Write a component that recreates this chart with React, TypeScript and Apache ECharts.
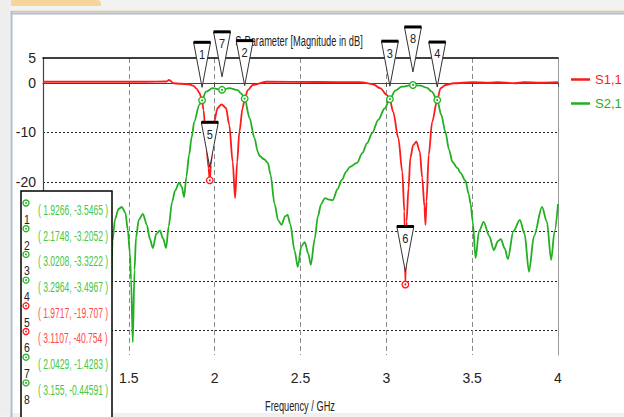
import React, { useEffect, useRef } from "react";
import * as echarts from "echarts";

// ---- data ----
const seriesNames = ["S1,1", "S2,1"];
const titleText = "S-Parameter [Magnitude in dB]";
const xAxisTitle = "Frequency / GHz";

const s11Freq = [
  1.0, 1.3, 1.6, 1.72, 1.735, 1.745, 1.76, 1.8, 1.85, 1.875, 1.895, 1.91, 1.9266, 1.935, 1.949, 1.964,
  1.9717, 1.978, 1.997, 2.017, 2.04, 2.066, 2.085, 2.105, 2.119, 2.131, 2.144, 2.163, 2.175, 2.193, 2.222,
  2.3, 2.6, 2.85, 2.923, 2.964, 3.005, 3.0208, 3.04, 3.07, 3.093, 3.105, 3.1107, 3.118, 3.129, 3.14, 3.156,
  3.175, 3.195, 3.209, 3.222, 3.228, 3.234, 3.247, 3.267, 3.2964, 3.316, 3.345, 3.392, 3.5, 3.6, 3.65, 3.75,
  3.8, 3.9, 4.0,
];
const s11Mag = [
  0.2, 0.2, 0.2, 0.25, 0.6, 0.3, -0.1, -0.2, -0.3, -0.6, -1.2, -2.0, -3.5, -5.5, -11.2, -17.2,
  -19.707, -16.6, -7.9, -5.1, -4.35, -5.1, -8.5, -16.0, -23.3, -16.0, -9.9, -5.1, -3.2, -1.5, -0.45,
  0.2, 0.15, 0.1, -0.3, -1.1, -2.5, -3.5, -5.9, -11.2, -18.0, -26, -40.754, -28, -21.3, -15.2, -12.6,
  -11.9, -13.9, -19.2, -25, -28.7, -24, -14.6, -7.9, -3.5, -1.1, -0.45, -0.1, 0.1, 0.0, 0.1, -0.1,
  0.1, 0.0, 0.1,
];

const s21Freq = [
  1.385, 1.394, 1.405, 1.42, 1.44, 1.459, 1.48, 1.494, 1.506, 1.513, 1.523, 1.533, 1.542, 1.558, 1.582,
  1.605, 1.622, 1.64, 1.66, 1.681, 1.7, 1.717, 1.732, 1.752, 1.769, 1.793, 1.808, 1.822, 1.835, 1.851,
  1.866, 1.881, 1.91, 1.9266, 1.949, 1.988, 2.0429, 2.085, 2.134, 2.155, 2.1748, 2.203, 2.232, 2.251,
  2.261, 2.29, 2.31, 2.325, 2.349, 2.37, 2.39, 2.41, 2.425, 2.44, 2.466, 2.484, 2.505, 2.525, 2.545,
  2.56, 2.583, 2.601, 2.62, 2.642, 2.665, 2.689, 2.715, 2.742, 2.765, 2.788, 2.829, 2.86, 2.888, 2.917,
  2.953, 2.99, 3.0208, 3.052, 3.09, 3.155, 3.2, 3.235, 3.265, 3.2964, 3.32, 3.344, 3.365, 3.385, 3.414,
  3.432, 3.461, 3.48, 3.491, 3.503, 3.52, 3.54, 3.567, 3.6, 3.626, 3.65, 3.667, 3.69, 3.708, 3.74,
  3.778, 3.805, 3.831, 3.86, 3.907, 3.935, 3.96, 3.98, 4.0,
];
const s21Mag = [
  -50, -45, -32, -27.5, -25.5, -25.1, -26.3, -29.7, -34.4, -39.8, -52.4, -37.8, -31.2, -27.7, -26.5,
  -28.7, -31.5, -33.4, -30.5, -29.9, -31.5, -33.4, -29, -24.1, -21.8, -20.2, -21, -23.1, -19, -14.6,
  -11, -7.9, -4.5, -3.5465, -1.8, -1.1, -1.4283, -1.1, -1.5, -2.2, -3.2052, -7.1, -11.2, -13.9,
  -14.8, -15.5, -16.2, -18.5, -24.5, -27.8, -28.7, -27.0, -26.7, -28.5, -34, -37.2, -33, -32.2, -34.5,
  -36.8, -31.5, -27, -24.5, -23.3, -23.6, -23.7, -21.5, -19.6, -18, -17.0, -16.2, -14.2, -12.2, -10.2,
  -7.5, -5.2, -3.3222, -1.6, -0.8, -0.44591, -0.6, -1.0, -1.8, -3.4967, -6.5, -9.9, -13.5, -16.0, -17.2,
  -18.2, -19.8, -22.5, -24.5, -28, -35.4, -30, -28.1, -31, -33.8, -32, -31.6, -33.5, -35.6, -30,
  -27.7, -30.5, -38.2, -31, -25.1, -28, -35.8, -30, -24.5,
];

const markerIds = [1, 2, 3, 4, 5, 6, 7, 8];
const markerFreq = [1.9266, 2.1748, 3.0208, 3.2964, 1.9717, 3.1107, 2.0429, 3.155];
const markerMag = [-3.5465, -3.2052, -3.3222, -3.4967, -19.707, -40.754, -1.4283, -0.44591];
const markerCurve = ["S2,1", "S2,1", "S2,1", "S2,1", "S1,1", "S1,1", "S2,1", "S2,1"];

// ---- styles ----
const RED = "#ff1a1a";
const GREEN = "#22b022";
const RED_TXT = "#ff4a4a";
const GREEN_TXT = "#45c845";
const FONT = '"Liberation Sans", sans-serif';

function colorOf(name: string) {
  return name === "S1,1" ? RED : GREEN;
}

export default function App() {
  const ref = useRef<HTMLDivElement>(null);

  useEffect(() => {
    if (!ref.current) return;
    const chart = echarts.init(ref.current, null, { renderer: "svg" });

    const tableGraphics: any[] = [
      {
        type: "rect",
        z: 50,
        shape: { x: 21, y: 191, width: 91, height: 228 },
        style: { fill: "#fff", stroke: "#000", lineWidth: 1.5 },
      },
    ];
    markerIds.forEach((id, i) => {
      const rowY = 210 + i * 25.7;
      const tc = markerCurve[i] === "S1,1" ? RED_TXT : GREEN_TXT;
      const ic = colorOf(markerCurve[i]);
      tableGraphics.push(
        { type: "circle", z: 51, shape: { cx: 26, cy: rowY - 7, r: 3 }, style: { fill: "#fff", stroke: ic, lineWidth: 1.3 } },
        { type: "circle", z: 51, shape: { cx: 26, cy: rowY - 7, r: 0.9 }, style: { fill: ic } },
        {
          type: "text", z: 51, x: 27, y: rowY + 9, scaleX: 0.8,
          style: { text: String(id), fill: "#222", font: `13px ${FONT}`, align: "center", verticalAlign: "middle" },
        },
        {
          type: "text", z: 51, x: 38, y: rowY, scaleX: 0.61,
          style: {
            text: `( ${markerFreq[i]}, ${markerMag[i]} )`,
            fill: tc, font: `14px ${FONT}`, align: "left", verticalAlign: "middle",
          },
        }
      );
    });

    const option: any = {
      animation: false,
      backgroundColor: "#ffffff",
      grid: { left: 43, right: 66, top: 58, bottom: 62, containLabel: false },
      legend: {
        orient: "vertical",
        left: 566,
        top: 68,
        itemWidth: 19,
        itemHeight: 2.5,
        itemGap: 11,
        icon: "rect",
        textStyle: { fontFamily: FONT, fontSize: 13 },
        data: [
          { name: seriesNames[0], textStyle: { color: RED } },
          { name: seriesNames[1], textStyle: { color: GREEN } },
        ],
      },
      xAxis: [
        {
          type: "value",
          min: 1,
          max: 4,
          interval: 0.5,
          axisLine: { show: true, lineStyle: { color: "#444", width: 1.2 } },
          axisTick: { show: true, inside: false, length: 4, lineStyle: { color: "#444" } },
          axisLabel: {
            color: "#222",
            fontSize: 14,
            fontFamily: FONT,
            margin: 16,
            formatter: (v: number) => (v > 1 ? String(v) : ""),
          },
          splitLine: { show: true, lineStyle: { color: "#8a8a8a", type: [5, 3], width: 1 } },
        },
        {
          type: "value",
          position: "top",
          min: 1,
          max: 4,
          axisLine: { show: true, onZero: false, lineStyle: { color: "#000", width: 1.5 } },
          axisLabel: { show: false },
          axisTick: { show: false },
          splitLine: { show: false },
        },
      ],
      yAxis: [
        {
          type: "value",
          min: -55,
          max: 5,
          interval: 5,
          axisLine: { show: true, onZero: false, lineStyle: { color: "#444", width: 1.2 } },
          axisTick: { show: false },
          axisLabel: {
            color: "#222",
            fontSize: 14,
            fontFamily: FONT,
            margin: 7,
            formatter: (v: number) => (v >= -20 && (v === 5 || v % 10 === 0) ? String(v) : ""),
          },
          splitLine: { show: true, lineStyle: { color: ["transparent", "#222"], type: [2, 2], width: 1 } },
        },
        {
          type: "value",
          position: "right",
          min: -55,
          max: 5,
          axisLine: { show: true, onZero: false, lineStyle: { color: "#999", width: 1 } },
          axisLabel: { show: false },
          axisTick: { show: false },
          splitLine: { show: false },
        },
      ],
      graphic: [
        { type: "rect", z: -10, shape: { x: 0, y: 0, width: 624, height: 12 }, style: { fill: "#f2f2f2" } },
        { type: "rect", z: -9, shape: { x: 11, y: 0, width: 90, height: 6, r: [0, 4, 0, 0] }, style: { fill: "#f7d49a" } },
        { type: "line", z: -8, shape: { x1: 11, y1: 11.5, x2: 624, y2: 11.5 }, style: { stroke: "#e8c27e", lineWidth: 1.5 } },
        { type: "line", z: -8, shape: { x1: 11, y1: 13.5, x2: 624, y2: 13.5 }, style: { stroke: "#b2bccb", lineWidth: 2 } },
        { type: "rect", z: -10, shape: { x: 0, y: 0, width: 10, height: 417 }, style: { fill: "#eeeeee" } },
        { type: "line", z: -8, shape: { x1: 11.5, y1: 11, x2: 11.5, y2: 417 }, style: { stroke: "#b2bccb", lineWidth: 2 } },
        { type: "rect", z: -10, shape: { x: 0, y: 413, width: 624, height: 4 }, style: { fill: "#f0f0f0" } },
        {
          type: "text", z: 1, x: 299, y: 41, scaleX: 0.62,
          style: { text: titleText, fill: "#222", font: `15px ${FONT}`, align: "center", verticalAlign: "middle" },
        },
        {
          type: "text", z: 1, x: 300, y: 406, scaleX: 0.66,
          style: { text: xAxisTitle, fill: "#222", font: `14px ${FONT}`, align: "center", verticalAlign: "middle" },
        },
        ...tableGraphics,
      ],
      series: [
        {
          name: seriesNames[0],
          type: "line",
          data: s11Freq.map((f, i) => [f, s11Mag[i]]),
          showSymbol: false,
          smooth: 0.3,
          smoothMonotone: "x",
          lineStyle: { color: RED, width: 1.8 },
          itemStyle: { color: RED },
          z: 3,
        },
        {
          name: seriesNames[1],
          type: "line",
          data: s21Freq.map((f, i) => [f, s21Mag[i]]),
          showSymbol: false,
          smooth: 0.3,
          smoothMonotone: "x",
          lineStyle: { color: GREEN, width: 1.8 },
          itemStyle: { color: GREEN },
          z: 4,
        },
        {
          name: "markers",
          type: "custom",
          z: 10,
          clip: false,
          data: markerFreq.map((f, i) => [f, markerMag[i], i]),
          renderItem: (params: any, api: any) => {
            const i = api.value(2);
            const p = api.coord([api.value(0), api.value(1)]);
            const col = colorOf(markerCurve[i]);
            const top = p[1] - 58;
            const tip = p[1] - 13;
            const hw = 8.5;
            return {
              type: "group",
              children: [
                {
                  type: "polygon",
                  shape: { points: [[p[0] - hw, top], [p[0] + hw, top], [p[0], tip]] },
                  style: { fill: "#fff", stroke: "#333", lineWidth: 1 },
                },
                {
                  type: "line",
                  shape: { x1: p[0] - hw, y1: top, x2: p[0] + hw, y2: top },
                  style: { stroke: "#000", lineWidth: 3 },
                },
                {
                  type: "text",
                  x: p[0],
                  y: top + 12,
                  scaleX: 0.85,
                  style: { text: String(markerIds[i]), fill: "#222", font: `13px ${FONT}`, align: "center", verticalAlign: "middle" },
                },
                { type: "circle", shape: { cx: p[0], cy: p[1], r: 3.3 }, style: { fill: "#fff", stroke: col, lineWidth: 1.3 } },
                { type: "circle", shape: { cx: p[0], cy: p[1], r: 1 }, style: { fill: col } },
              ],
            };
          },
        },
      ],
    };

    chart.setOption(option);
    return () => chart.dispose();
  }, []);

  return <div ref={ref} style={{ position: "fixed", left: 0, top: 0, width: 624, height: 417 }} />;
}
